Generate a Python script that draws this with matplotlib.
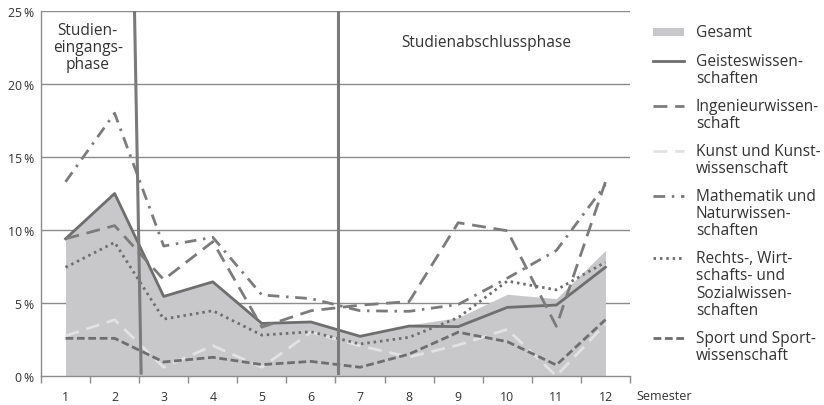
import numpy as np
import matplotlib
matplotlib.use("Agg")
from matplotlib import pyplot as plt
from matplotlib.lines import Line2D
from matplotlib.patches import Rectangle

plt.rcParams['font.family'] = ['Open Sans', 'DejaVu Sans']

# Data (percent per semester)
semester = np.arange(1, 13)
gesamt = [9.4, 12.5, 5.45, 6.45, 3.6, 3.7, 2.75, 3.5, 4.0, 5.6, 5.3, 8.6]
geistes = [9.4, 12.5, 5.45, 6.45, 3.6, 3.7, 2.72, 3.42, 3.38, 4.7, 4.86, 7.45]
ingenieur = [9.4, 10.3, 6.6, 9.2, 3.35, 4.47, 4.85, 5.1, 10.5, 9.95, 3.4, 13.3]
kunst = [2.75, 3.85, 0.6, 2.08, 0.6, 3.0, 2.07, 1.3, 2.12, 3.2, 0.0, 3.56]
mathe = [13.3, 18.0, 8.9, 9.5, 5.55, 5.3, 4.47, 4.43, 4.9, 6.7, 8.6, 13.1]
rechts = [7.44, 9.15, 3.9, 4.47, 2.8, 3.03, 2.19, 2.65, 4.0, 6.5, 5.9, 7.8]
sport = [2.58, 2.58, 0.96, 1.28, 0.78, 1.0, 0.6, 1.5, 3.0, 2.35, 0.75, 3.86]

yticks = [0, 5, 10, 15, 20, 25]
ytick_labels = ["0\u2009%", "5\u2009%", "10\u2009%", "15\u2009%", "20\u2009%", "25\u2009%"]

fig = plt.figure(figsize=(8.24, 4.06), dpi=100)
ax = fig.add_axes([41 / 824, 29 / 406, 589 / 824, 365 / 406])

grid_col = "#8c8c8c"
txt_col = "#333333"
for y in yticks[1:]:
    ax.axhline(y, color=grid_col, lw=1.0, zorder=1)

ax.fill_between(semester, gesamt, 0, color="#c8c8ca", lw=0, zorder=2)

styles = [
    ("Geisteswissen-\nschaften", geistes, dict(color="#6e6e6e", lw=2.0, ls="-")),
    ("Ingenieurwissen-\nschaft", ingenieur, dict(color="#7c7c7c", lw=2.0, ls=(0, (5.0, 2.8)))),
    ("Kunst und Kunst-\nwissenschaft", kunst, dict(color="#e2e2e2", lw=2.0, ls=(0, (5.0, 2.8)))),
    ("Mathematik und\nNaturwissen-\nschaften", mathe, dict(color="#7c7c7c", lw=2.0, ls=(0, (4.2, 2.4, 0.9, 2.4)))),
    ("Rechts-, Wirt-\nschafts- und\nSozialwissen-\nschaften", rechts, dict(color="#6e6e6e", lw=2.0, ls=(0, (0.9, 1.4)))),
    ("Sport und Sport-\nwissenschaft", sport, dict(color="#6e6e6e", lw=2.0, ls=(0, (2.8, 1.3)))),
]
for name, vals, st in styles:
    ax.plot(semester, vals, zorder=3, **st)

# phase separators
ax.plot([2.405, 2.54], [25, 0.2], color="#7a7a7a", lw=2.2, zorder=4)
ax.plot([6.56, 6.56], [25, 0.2], color="#7a7a7a", lw=2.2, zorder=4)

ax.text(1.45, 22.55, "Studien-\neingangs-\nphase", ha="center", va="center",
        fontsize=11.2, color=txt_col, linespacing=1.1)
ax.text(9.58, 22.9, "Studienabschlussphase", ha="center", va="center",
        fontsize=11.2, color=txt_col)

ax.set_xlim(0.5, 12.5)
ax.set_ylim(0, 25)
ax.set_yticks(yticks)
ax.set_yticklabels(ytick_labels)
ax.set_xticks(semester)
ax.set_xticks(np.arange(0.5, 13, 1), minor=True)
ax.tick_params(axis="x", which="major", length=0, pad=10, labelsize=8.8, labelcolor=txt_col)
ax.tick_params(axis="x", which="minor", length=5, width=1, color=grid_col, direction="out")
ax.tick_params(axis="y", length=0, pad=5, labelsize=8.8, labelcolor=txt_col)
for s in ["top", "right"]:
    ax.spines[s].set_visible(False)
for s in ["left", "bottom"]:
    ax.spines[s].set_color(grid_col)
    ax.spines[s].set_linewidth(1.0)
    ax.spines[s].set_zorder(5)

ax.text(12.64, -1.35, "Semester", ha="left", va="center", fontsize=9, color=txt_col,
        clip_on=False)

# legend drawn by hand so handles sit on the first text line
lax = fig.add_axes([0, 0, 1, 1])
lax.set_xlim(0, 824)
lax.set_ylim(406, 0)
lax.axis("off")
line_h = 17.4
gap = 27.5
y = 33
lax.add_patch(Rectangle((653, y - 4), 31, 8, color="#c8c8ca", lw=0))
lax.text(696, y, "Gesamt", ha="left", va="center", fontsize=11.2, color=txt_col)
y += 29
for name, vals, st in styles:
    lax.add_line(Line2D([653, 684], [y, y], **st))
    rows = name.split("\n")
    for k, row in enumerate(rows):
        lax.text(696, y + k * line_h, row, ha="left", va="center", fontsize=11.2, color=txt_col)
    y += (len(rows) - 1) * line_h + gap

fig.savefig("out.png", dpi=100)
